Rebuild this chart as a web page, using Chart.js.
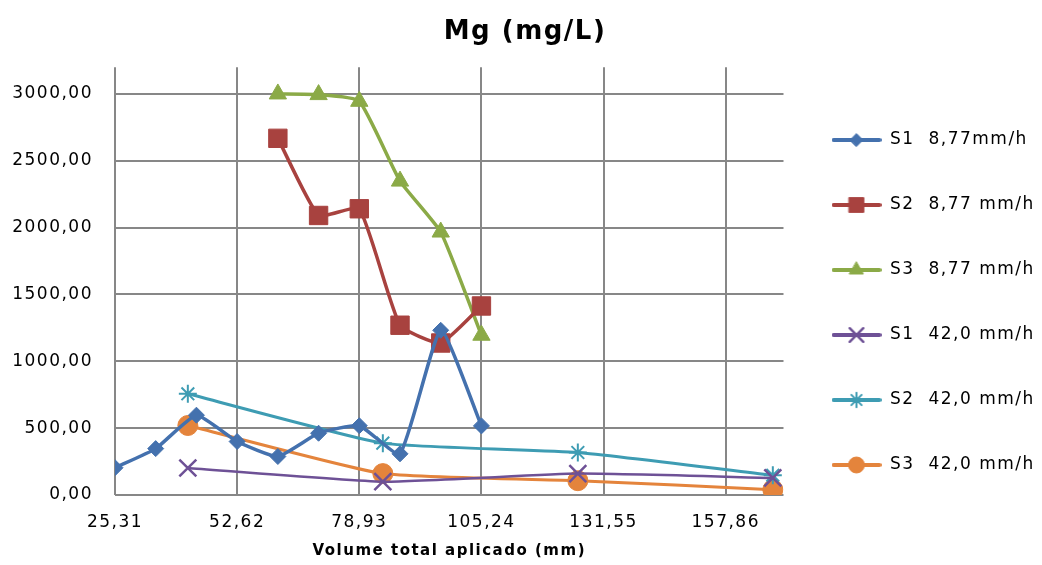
<!DOCTYPE html>
<html>
<head>
<meta charset="utf-8">
<title>Mg (mg/L)</title>
<script src="https://cdn.jsdelivr.net/npm/chart.js@4/dist/chart.umd.min.js"></script>
<style>
  html, body { margin: 0; padding: 0; background: #fff; }
  #wrap { width: 1042px; height: 565px; }
</style>
</head>
<body>
<div id="wrap"><canvas id="mgChart"></canvas></div>
<script>
// volumes (mm) for each rain intensity
const xLow = [26.31, 35.08, 43.85, 52.62, 61.39, 70.16, 78.93, 87.70, 96.47, 105.24];
const xLowS23 = [61.39, 70.16, 78.93, 87.70, 96.47, 105.24];
const xHigh = [42.0, 84.0, 126.0, 168.0];

// Mg values
const s1Low = [204, 347, 597, 400, 288, 462, 518, 308, 1232, 517];
const s2Low = [2668, 2091, 2141, 1270, 1137, 1414];
const s3Low = [3000, 2995, 2945, 2348, 1967, 1195];
const s1High = [202, 100, 160, 128];
const s2High = [757, 388, 318, 148];
const s3High = [520, 160, 107, 40];

const seriesNames = ['S1  8,77mm/h', 'S2  8,77 mm/h', 'S3  8,77 mm/h', 'S1  42,0 mm/h', 'S2  42,0 mm/h', 'S3  42,0 mm/h'];

// tick positions and the labels printed on them
const xTickValues = [26.31, 52.62, 78.93, 105.24, 131.55, 157.86];
const xTickLabels = ['25,31', '52,62', '78,93', '105,24', '131,55', '157,86'];
const yTickValues = [0, 500, 1000, 1500, 2000, 2500, 3000];

const toPoints = (xs, ys) => xs.map((x, i) => ({ x: x, y: ys[i] }));

const font = 'DejaVu Sans';
const gridColor = '#878787';

// estilo de cada série: cor, marcador, tamanho
const styles = [
  { color: '#4471AE', point: 'rectRot', r: 8, lw: 3.5, pbw: 1 },
  { color: '#A8423F', point: 'rect', r: 13, lw: 3.5, pbw: 1 },
  { color: '#8BAA47', point: 'triangle', r: 10, lw: 3.5, pbw: 1 },
  { color: '#6E5196', point: 'crossRot', r: 12, lw: 2.5, pbw: 2.5 },
  { color: '#3E9CB3', point: 'star', r: 9, lw: 3, pbw: 2 },
  { color: '#E4843C', point: 'circle', r: 10, lw: 3, pbw: 1 }
];

const seriesData = [
  toPoints(xLow, s1Low),
  toPoints(xLowS23, s2Low),
  toPoints(xLowS23, s3Low),
  toPoints(xHigh, s1High),
  toPoints(xHigh, s2High),
  toPoints(xHigh, s3High)
];

// small images for the legend: a line with the marker in the middle
const legendIcons = styles.map((s) => {
  const c = document.createElement('canvas');
  c.width = 50;
  c.height = 22;
  const g = c.getContext('2d');
  g.strokeStyle = s.color;
  g.fillStyle = s.color;
  g.lineWidth = 4;
  g.lineCap = 'round';
  g.beginPath();
  g.moveTo(2, 11);
  g.lineTo(48, 11);
  g.stroke();
  g.lineWidth = s.pbw;
  Chart.helpers.drawPoint(g, { pointStyle: s.point, radius: s.r * 0.8, borderWidth: s.pbw, rotation: 0 }, 25, 11);
  return c;
});

// Excel-like wide letter spacing
const spacingPlugin = {
  id: 'spacing',
  beforeUpdate(chart) { chart.ctx.letterSpacing = '1.5px'; },
  beforeLayout(chart) { chart.ctx.letterSpacing = '1.5px'; },
  beforeDraw(chart) { chart.ctx.letterSpacing = '1.5px'; }
};

const ctx = document.getElementById('mgChart');

new Chart(ctx, {
  type: 'line',
  data: {
    datasets: seriesData.map((d, i) => ({
      label: seriesNames[i],
      data: d,
      borderColor: styles[i].color,
      backgroundColor: styles[i].color,
      borderWidth: styles[i].lw,
      pointStyle: styles[i].point,
      pointRadius: styles[i].r,
      pointHoverRadius: styles[i].r,
      pointBorderWidth: styles[i].pbw,
      pointBackgroundColor: styles[i].color,
      pointBorderColor: styles[i].color,
      tension: 0.15,
      fill: false
    }))
  },
  options: {
    responsive: true,
    maintainAspectRatio: false,
    animation: false,
    layout: { padding: { left: 8, right: 0, top: 0, bottom: 0 } },
    scales: {
      x: {
        type: 'linear',
        min: 26.31,
        max: 170.3,
        afterBuildTicks: (scale) => {
          scale.ticks = xTickValues.map((v) => ({ value: v }));
        },
        afterFit: (scale) => { scale.height = 70; },
        ticks: {
          autoSkip: false,
          maxRotation: 0,
          padding: 17,
          color: '#000',
          font: { family: font, size: 17 },
          callback: (value, index) => xTickLabels[index]
        },
        grid: { color: gridColor, lineWidth: 2, drawTicks: false },
        border: { display: false },
        title: {
          display: true,
          text: 'Volume total aplicado (mm)',
          color: '#000',
          font: { family: font, size: 15, weight: 'bold' },
          padding: { top: 0, bottom: 5 }
        }
      },
      y: {
        type: 'linear',
        min: 0,
        max: 3200,
        afterBuildTicks: (scale) => {
          scale.ticks = yTickValues.map((v) => ({ value: v }));
        },
        afterFit: (scale) => { scale.width = 107; },
        ticks: {
          autoSkip: false,
          padding: 22,
          color: '#000',
          font: { family: font, size: 17 },
          callback: (value, index) => yTickValues[index].toFixed(2).replace('.', ',')
        },
        grid: { color: gridColor, lineWidth: 2, drawTicks: false },
        border: { display: false }
      }
    },
    plugins: {
      title: {
        display: true,
        text: 'Mg (mg/L)',
        color: '#000',
        font: { family: font, size: 26, weight: 'bold' },
        padding: { top: 17, bottom: 19 }
      },
      legend: {
        position: 'right',
        align: 'center',
        title: { display: true, text: ' ', font: { size: 10 }, padding: { top: 14, bottom: 14 } },
        labels: {
          usePointStyle: true,
          pointStyleWidth: 50,
          padding: 48,
          color: '#000',
          font: { family: font, size: 17 },
          generateLabels: (chart) => {
            const items = Chart.defaults.plugins.legend.labels.generateLabels(chart);
            items.forEach((it, i) => { it.pointStyle = legendIcons[i]; });
            return items;
          }
        }
      },
      tooltip: { enabled: false }
    }
  },
  plugins: [spacingPlugin]
});
</script>
</body>
</html>
